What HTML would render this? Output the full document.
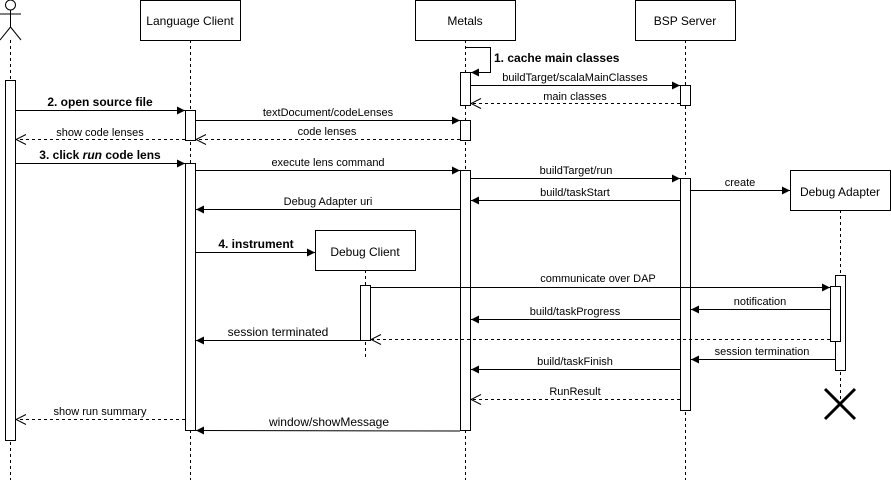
<!DOCTYPE html><html><head><meta charset="utf-8"><style>body{margin:0;background:#fff}svg{display:block}text{font-family:"Liberation Sans",sans-serif;fill:#000}</style></head><body>
<svg width="891" height="480" viewBox="0 0 891 480" xmlns="http://www.w3.org/2000/svg">
<defs>
<marker id="b" markerWidth="10" markerHeight="10" refX="9" refY="5" orient="auto" markerUnits="userSpaceOnUse"><path d="M1,1 L9,5 L1,9 Z" fill="#000"/></marker>
<marker id="o" markerWidth="12" markerHeight="12" refX="11" refY="6" orient="auto" markerUnits="userSpaceOnUse"><path d="M1,1 L11,6 L1,11" fill="none" stroke="#000"/></marker>
</defs>
<g stroke="#000" stroke-dasharray="3,3" fill="none">
<line x1="10.5" y1="40" x2="10.5" y2="480"/>
<line x1="190.5" y1="40" x2="190.5" y2="480"/>
<line x1="465.5" y1="40" x2="465.5" y2="480"/>
<line x1="685.5" y1="40" x2="685.5" y2="480"/>
<line x1="365.5" y1="270" x2="365.5" y2="360"/>
<line x1="840.5" y1="210" x2="840.5" y2="400"/>
</g>
<g stroke="#000" fill="#fff">
<circle cx="10.5" cy="5" r="5"/>
<line x1="10.5" y1="10" x2="10.5" y2="27"/><line x1="0" y1="14" x2="21" y2="14"/>
<line x1="10.5" y1="27" x2="0" y2="40"/><line x1="10.5" y1="27" x2="21" y2="40"/>
<rect x="140.5" y="0.5" width="100" height="40"/>
<rect x="415.5" y="0.5" width="100" height="40"/>
<rect x="635.5" y="0.5" width="100" height="40"/>
<rect x="315.5" y="230.5" width="100" height="40"/>
<rect x="790.5" y="170.5" width="100" height="40"/>
<rect x="5.5" y="80.5" width="10" height="360"/>
<rect x="185.5" y="110.5" width="10" height="30"/>
<rect x="185.5" y="163.5" width="10" height="267"/>
<rect x="460.5" y="72.5" width="10" height="33"/>
<rect x="460.5" y="120.5" width="10" height="20"/>
<rect x="460.5" y="170.5" width="10" height="260"/>
<rect x="680.5" y="85.5" width="10" height="20"/>
<rect x="680.5" y="178.5" width="10" height="232"/>
<rect x="360.5" y="285.5" width="10" height="55"/>
<rect x="835.5" y="275.5" width="10" height="95"/>
<rect x="830.5" y="286.5" width="10" height="55"/>
</g>
<g font-size="12" text-anchor="middle">
<text x="190" y="25">Language Client</text><text x="465" y="25">Metals</text><text x="685" y="25">BSP Server</text>
<text x="365" y="256">Debug Client</text><text x="840" y="196">Debug Adapter</text>
</g>
<g stroke="#000" fill="none">
<path d="M465,47.5 H490.5 V72.5 H471" marker-end="url(#b)"/>
<line x1="471" y1="85.5" x2="680" y2="85.5" marker-end="url(#b)"/>
<line x1="680" y1="103.5" x2="471" y2="103.5" stroke-dasharray="3,3" marker-end="url(#o)"/>
<line x1="16" y1="110.5" x2="185" y2="110.5" marker-end="url(#b)"/>
<line x1="196" y1="120.5" x2="460" y2="120.5" marker-end="url(#b)"/>
<line x1="460" y1="139.5" x2="196" y2="139.5" stroke-dasharray="3,3" marker-end="url(#o)"/>
<line x1="185" y1="139.5" x2="16" y2="139.5" stroke-dasharray="3,3" marker-end="url(#o)"/>
<line x1="16" y1="163.5" x2="185" y2="163.5" marker-end="url(#b)"/>
<line x1="196" y1="170.5" x2="460" y2="170.5" marker-end="url(#b)"/>
<line x1="471" y1="178.5" x2="680" y2="178.5" marker-end="url(#b)"/>
<line x1="680" y1="200.5" x2="471" y2="200.5" marker-end="url(#b)"/>
<line x1="691" y1="190.5" x2="790" y2="190.5" marker-end="url(#b)"/>
<line x1="460" y1="209.5" x2="196" y2="209.5" marker-end="url(#b)"/>
<line x1="196" y1="252.5" x2="315" y2="252.5" marker-end="url(#b)"/>
<line x1="371" y1="287.5" x2="830" y2="287.5" marker-end="url(#b)"/>
<line x1="830" y1="309.5" x2="691" y2="309.5" marker-end="url(#b)"/>
<line x1="680" y1="319.5" x2="471" y2="319.5" marker-end="url(#b)"/>
<line x1="830" y1="339.5" x2="371" y2="339.5" stroke-dasharray="3,3" marker-end="url(#o)"/>
<line x1="360" y1="340.5" x2="196" y2="340.5" marker-end="url(#b)"/>
<line x1="835" y1="359.5" x2="691" y2="359.5" marker-end="url(#b)"/>
<line x1="680" y1="369.5" x2="471" y2="369.5" marker-end="url(#b)"/>
<line x1="680" y1="399.5" x2="471" y2="399.5" stroke-dasharray="3,3" marker-end="url(#o)"/>
<line x1="185" y1="419.5" x2="16" y2="419.5" stroke-dasharray="3,3" marker-end="url(#o)"/>
<line x1="460" y1="431" x2="196" y2="430.5" marker-end="url(#b)"/>
<path d="M825,389 L855,419 M855,389 L825,419" stroke-width="3"/>
</g>
<g font-size="11" text-anchor="middle">
<text x="575" y="81">buildTarget/scalaMainClasses</text>
<text x="575" y="100">main classes</text>
<text x="328" y="116">textDocument/codeLenses</text>
<text x="327" y="135">code lenses</text>
<text x="100" y="136">show code lenses</text>
<text x="328" y="166">execute lens command</text>
<text x="576" y="174">buildTarget/run</text>
<text x="575" y="196">build/taskStart</text>
<text x="740" y="186">create</text>
<text x="328" y="205">Debug Adapter uri</text>
<text x="598" y="282">communicate over DAP</text>
<text x="760" y="305">notification</text>
<text x="575" y="315">build/taskProgress</text>
<text x="762" y="355">session termination</text>
<text x="575" y="365">build/taskFinish</text>
<text x="575" y="395">RunResult</text>
<text x="100" y="415">show run summary</text>
</g>
<g font-size="12" text-anchor="middle">
<text x="278" y="336">session terminated</text>
<text x="329" y="426">window/showMessage</text>
</g>
<g font-size="12" font-weight="bold">
<text x="494" y="62">1. cache main classes</text>
<text x="100" y="106" text-anchor="middle">2. open source file</text>
<text x="100" y="159" text-anchor="middle">3. click <tspan font-style="italic">run</tspan> code lens</text>
<text x="256" y="248" text-anchor="middle">4. instrument</text>
</g>
</svg></body></html>
